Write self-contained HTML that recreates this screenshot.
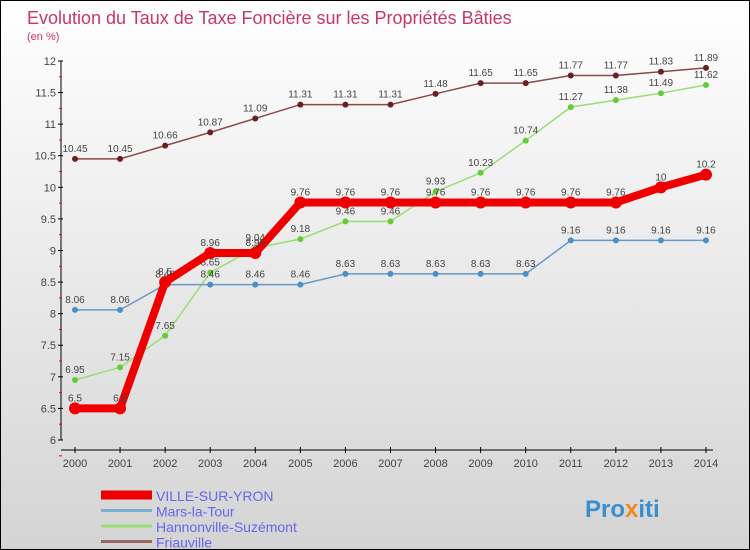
<!DOCTYPE html>
<html><head><meta charset="utf-8"><style>
body{margin:0;}
#c{width:748px;height:548px;border:1px solid #000;background:linear-gradient(#ffffff,#d4d4d4);position:relative;overflow:hidden;font-family:"Liberation Sans",sans-serif;}
svg{position:absolute;left:0;top:0;}
</style></head><body>
<div id="c">
<svg id="s" width="748" height="548" xmlns="http://www.w3.org/2000/svg">
<text x="26" y="23" font-size="18" fill="#c8366a">Evolution du Taux de Taxe Foncière sur les Propriétés Bâties</text>
<text x="26" y="39" font-size="11" fill="#c8366a">(en %)</text>
<text x="584" y="516" font-size="24" font-weight="bold" fill="#3a8fd0">Pro<tspan fill="#f08a1c">x</tspan>iti</text>
</svg>
</div>
<script>
const years=[2000,2001,2002,2003,2004,2005,2006,2007,2008,2009,2010,2011,2012,2013,2014];
const ville=[6.5,6.5,8.5,8.96,8.96,9.76,9.76,9.76,9.76,9.76,9.76,9.76,9.76,10,10.2];
const mars=[8.06,8.06,8.46,8.46,8.46,8.46,8.63,8.63,8.63,8.63,8.63,9.16,9.16,9.16,9.16];
const hannon=[6.95,7.15,7.65,8.65,9.04,9.18,9.46,9.46,9.93,10.23,10.74,11.27,11.38,11.49,11.62];
const friau=[10.45,10.45,10.66,10.87,11.09,11.31,11.31,11.31,11.48,11.65,11.65,11.77,11.77,11.83,11.89];
const yTicks=[6,6.5,7,7.5,8,8.5,9,9.5,10,10.5,11,11.5,12];
const seriesNames=["VILLE-SUR-YRON","Mars-la-Tour","Hannonville-Suzémont","Friauville"];
const NS="http://www.w3.org/2000/svg";
const s=document.getElementById('s');
const X=i=>74+i*45.07;
const Y=v=>439-(v-6)*63.17;
function el(t,a,p){const e=document.createElementNS(NS,t);for(const k in a)e.setAttribute(k,a[k]);(p||s).appendChild(e);return e;}
let ax=el('line',{x1:60,y1:60,x2:60,y2:439,stroke:'#000'});


let axx=el('line',{x1:60,y1:449,x2:712,y2:449,stroke:'#000'});


yTicks.forEach(v=>{
  el('line',{x1:57,x2:62,y1:Y(v),y2:Y(v),stroke:'#000'});
  el('line',{x1:58,x2:61,y1:Y(v)+15.8,y2:Y(v)+15.8,stroke:'#f00'});
  const t=el('text',{x:55,y:Y(v)+4,'text-anchor':'end','font-size':11,fill:'#444'});t.textContent=v;
  
  
});
years.forEach((yr,i)=>{
  el('line',{x1:X(i),x2:X(i),y1:446,y2:452,stroke:'#000'});
  const t=el('text',{x:X(i),y:466,'text-anchor':'middle','font-size':11,fill:'#444'});t.textContent=yr;
  
  
});
function series(data,col,dot,w,r,name){
  const g=el('g',{});
  
  
  el('polyline',{points:data.map((v,i)=>X(i)+','+Y(v)).join(' '),fill:'none',stroke:col,'stroke-width':w},g);
  data.forEach((v,i)=>{
    const c=el('circle',{cx:X(i),cy:Y(v),r:r,fill:dot},g);
    
    
    const t=el('text',{x:X(i),y:Y(v)-7,'text-anchor':'middle','font-size':10,fill:'#444'},g);t.textContent=v;
  });
}
series(friau,'#8b4a4a','#6b1f1f',1.5,3,'series-friauville');
series(hannon,'#99dd77','#66cc33',1.5,3,'series-hannonville');
series(mars,'#6699cc','#4a90c8',1.5,3,'series-mars-la-tour');
series(ville,'#ee0000','#ee0000',8,6,'series-ville-sur-yron');
const cols=['#ee0000','#7ab0d4','#99dd77','#996666'],ws=[9,3,3,3];
seriesNames.forEach((n,i)=>{
  const y=494+i*15.5;
  const g=el('g',{});
  
  
  el('line',{x1:100,x2:151,y1:y,y2:y,stroke:cols[i],'stroke-width':ws[i]},g);
  const t=el('text',{x:155,y:y+6,'font-size':14,fill:'#6666ee'},g);t.textContent=n;
});
</script>
</body></html>
